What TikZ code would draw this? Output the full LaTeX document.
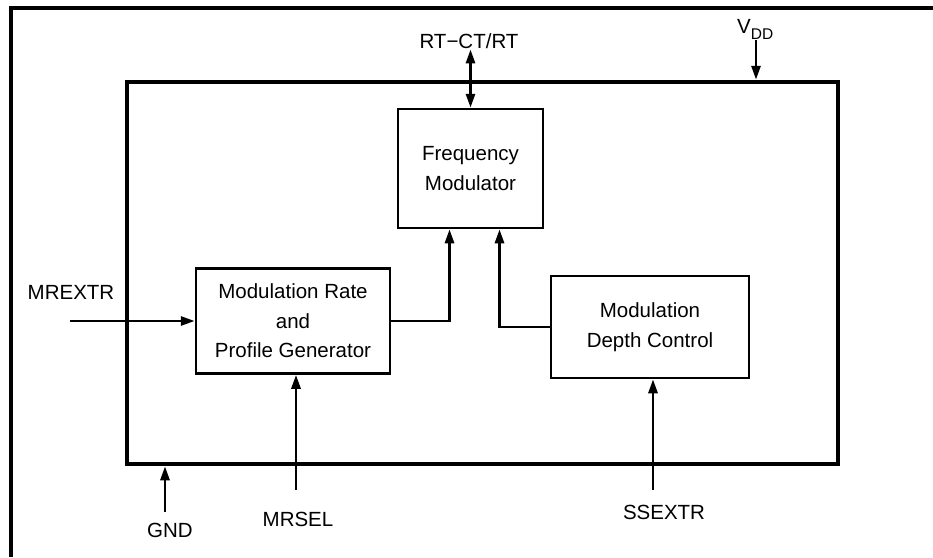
\documentclass[tikz,border=0pt]{standalone}
\usepackage{fontspec}
\setmainfont{Liberation Sans}
\usetikzlibrary{arrows.meta}
\tikzset{
	block/.style={draw,line width=2.5pt,align=center,inner sep=2pt,
		font=\fontsize{20.5}{29.5}\selectfont},
	pinline/.style={line width=2.8pt,-{Triangle[length=14pt,width=9pt]}},
	lbl/.style={inner sep=1pt,font=\fontsize{20.5}{24}\selectfont},
}
\begin{document}
\begin{tikzpicture}[x=1pt,y=-1pt]
	\useasboundingbox (0,0) rectangle (933,557);
	\draw[line width=4.5pt] (11,557) -- (11,8) -- (933,8);
	\node[draw,line width=4.5pt,inner sep=0pt,minimum width=711pt,minimum height=382pt]
		(chip) at (482.5,273) {};
	\node[block,minimum width=145pt,minimum height=119pt] (fm) at (470.5,168.5)
		{Frequency\\Modulator};
	\node[block,minimum width=194pt,minimum height=105pt] (mrg) at (293,321)
		{Modulation Rate\\and\\Profile Generator};
	\node[block,minimum width=198pt,minimum height=102pt] (mdc) at (650,327)
		{Modulation\\Depth Control};
	\node[lbl,anchor=base] (rtct) at (469,48) {RT−CT/RT};
	\node[lbl,anchor=base west] (vdd) at (736,33) {V\raisebox{-0.3em}{\fontsize{15.5}{15.5}\selectfont DD}};
	\node[lbl,anchor=base] (mrextr) at (71,299) {MREXTR};
	\node[lbl,anchor=base] (gnd) at (170,537) {GND};
	\node[lbl,anchor=base] (mrsel) at (298,526) {MRSEL};
	\node[lbl,anchor=base] (ssextr) at (664,519) {SSEXTR};
	\coordinate (vddpin) at (756,40);
	\coordinate (gndpin) at (165,512);
	\coordinate (mrselpin) at (296,490);
	\coordinate (ssextrpin) at (653,490);
	\coordinate (mrextrpin) at (70,321);
	\draw[pinline,{Triangle[length=14pt,width=9pt]}-{Triangle[length=14pt,width=9pt]}]
		(fm.north) -- (rtct.south -| fm.north);
	\draw[pinline] (vddpin) -- (vddpin |- chip.north);
	\draw[pinline] (gndpin) -- (gndpin |- chip.south);
	\draw[pinline] (mrselpin) -- (mrselpin |- mrg.south);
	\draw[pinline] (ssextrpin) -- (ssextrpin |- mdc.south);
	\draw[pinline] (mrextrpin) -- (mrg.west);
	\draw[pinline] (mrg.east) -| ([xshift=-21pt]fm.south);
	\draw[pinline] (mdc.west) -| ([xshift=29pt]fm.south);
\end{tikzpicture}
\end{document}
